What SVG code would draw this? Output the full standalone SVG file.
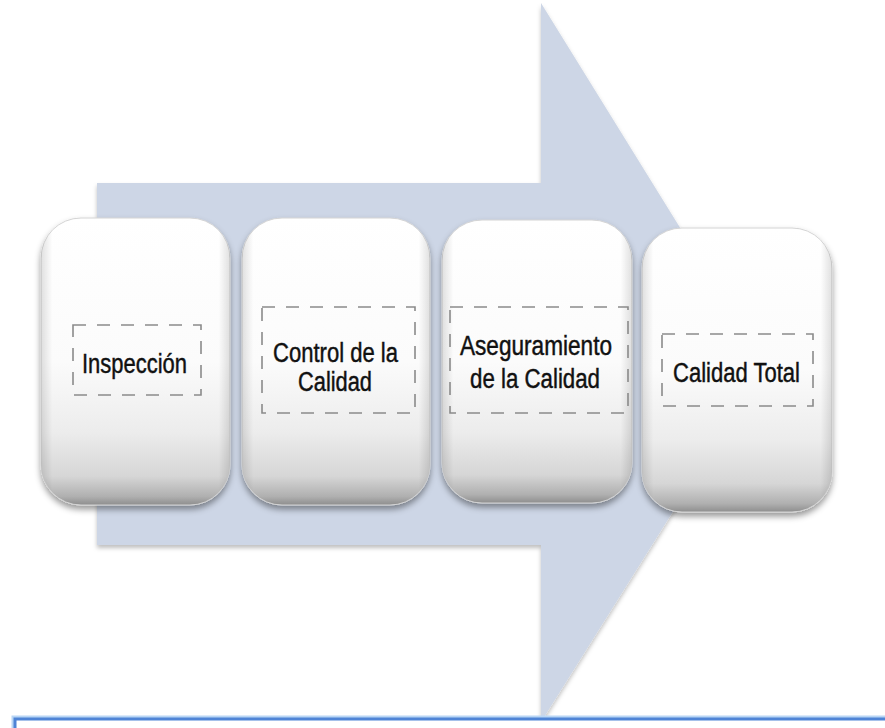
<svg xmlns="http://www.w3.org/2000/svg" width="885" height="728" viewBox="0 0 885 728">
<defs>
<linearGradient id="boxg" x1="0" y1="0" x2="0" y2="1">
<stop offset="0" stop-color="#ffffff"/>
<stop offset="0.5" stop-color="#fbfbfb"/>
<stop offset="0.75" stop-color="#ececec"/>
<stop offset="0.9" stop-color="#d6d6d6"/>
<stop offset="0.97" stop-color="#b0b0b0"/>
<stop offset="1" stop-color="#8e8e8e"/>
</linearGradient>
<linearGradient id="sideg" x1="0" y1="0" x2="1" y2="0">
<stop offset="0" stop-color="#000" stop-opacity="0.12"/>
<stop offset="0.06" stop-color="#000" stop-opacity="0"/>
<stop offset="0.94" stop-color="#000" stop-opacity="0"/>
<stop offset="1" stop-color="#000" stop-opacity="0.12"/>
</linearGradient>
<filter id="shadow" x="-10%" y="-10%" width="120%" height="125%">
<feDropShadow dx="0" dy="4" stdDeviation="3" flood-color="#000" flood-opacity="0.4"/>
</filter>
<filter id="ashadow" x="-10%" y="-10%" width="120%" height="120%">
<feDropShadow dx="0" dy="3" stdDeviation="2" flood-color="#000" flood-opacity="0.25"/>
</filter>
</defs>
<style>
.box{fill:url(#boxg);stroke:#d4d4d4;stroke-width:1;filter:url(#shadow)}
.side{fill:url(#sideg)}
.dash{fill:none;stroke:#8a8a8a;stroke-width:1.6;stroke-dasharray:13 11}
.lbl{font-family:"Liberation Sans",Arial,sans-serif;font-size:27px;fill:#111111;stroke:#111111;stroke-width:0.45;text-anchor:middle}
</style>
<rect width="885" height="728" fill="#ffffff"/>
<g id="arrow">
<path d="M97,183 L541,183 L541,3 L765,365 L541,722 L541,545 L97,545 Z" fill="#cdd6e6" filter="url(#ashadow)"/>
</g>
<g id="connectors"></g>
<g id="node1">
<rect class="box" x="41" y="218" width="189" height="287" rx="40"/>
<rect class="side" x="41" y="218" width="189" height="287" rx="40"/>
<rect class="dash" x="73" y="325" width="128" height="70"/>
<text class="lbl" x="134.5" y="373" textLength="105" lengthAdjust="spacingAndGlyphs">Inspección</text>
</g>
<g id="node2">
<rect class="box" x="242" y="218" width="188" height="287" rx="40"/>
<rect class="side" x="242" y="218" width="188" height="287" rx="40"/>
<rect class="dash" x="262" y="307" width="153" height="106"/>
<text class="lbl" x="335.5" y="362" textLength="125" lengthAdjust="spacingAndGlyphs">Control de la</text>
<text class="lbl" x="335" y="391" textLength="74" lengthAdjust="spacingAndGlyphs">Calidad</text>
</g>
<g id="node3">
<rect class="box" x="442" y="220" width="190" height="283" rx="40"/>
<rect class="side" x="442" y="220" width="190" height="283" rx="40"/>
<rect class="dash" x="450" y="307" width="178" height="106"/>
<text class="lbl" x="536" y="355" textLength="152" lengthAdjust="spacingAndGlyphs">Aseguramiento</text>
<text class="lbl" x="535" y="388" textLength="130" lengthAdjust="spacingAndGlyphs">de la Calidad</text>
</g>
<g id="node4">
<rect class="box" x="642" y="228" width="190" height="284" rx="40"/>
<rect class="side" x="642" y="228" width="190" height="284" rx="40"/>
<rect class="dash" x="662" y="334" width="151" height="72"/>
<text class="lbl" x="736.5" y="382" textLength="127" lengthAdjust="spacingAndGlyphs">Calidad Total</text>
</g>
<g id="bottom">
<rect x="15" y="719" width="900" height="40" fill="#ffffff" stroke="#b9d6f5" stroke-width="7"/>
<rect x="15" y="719" width="900" height="40" fill="#ffffff" stroke="#4f84d6" stroke-width="3"/>
</g>
</svg>
